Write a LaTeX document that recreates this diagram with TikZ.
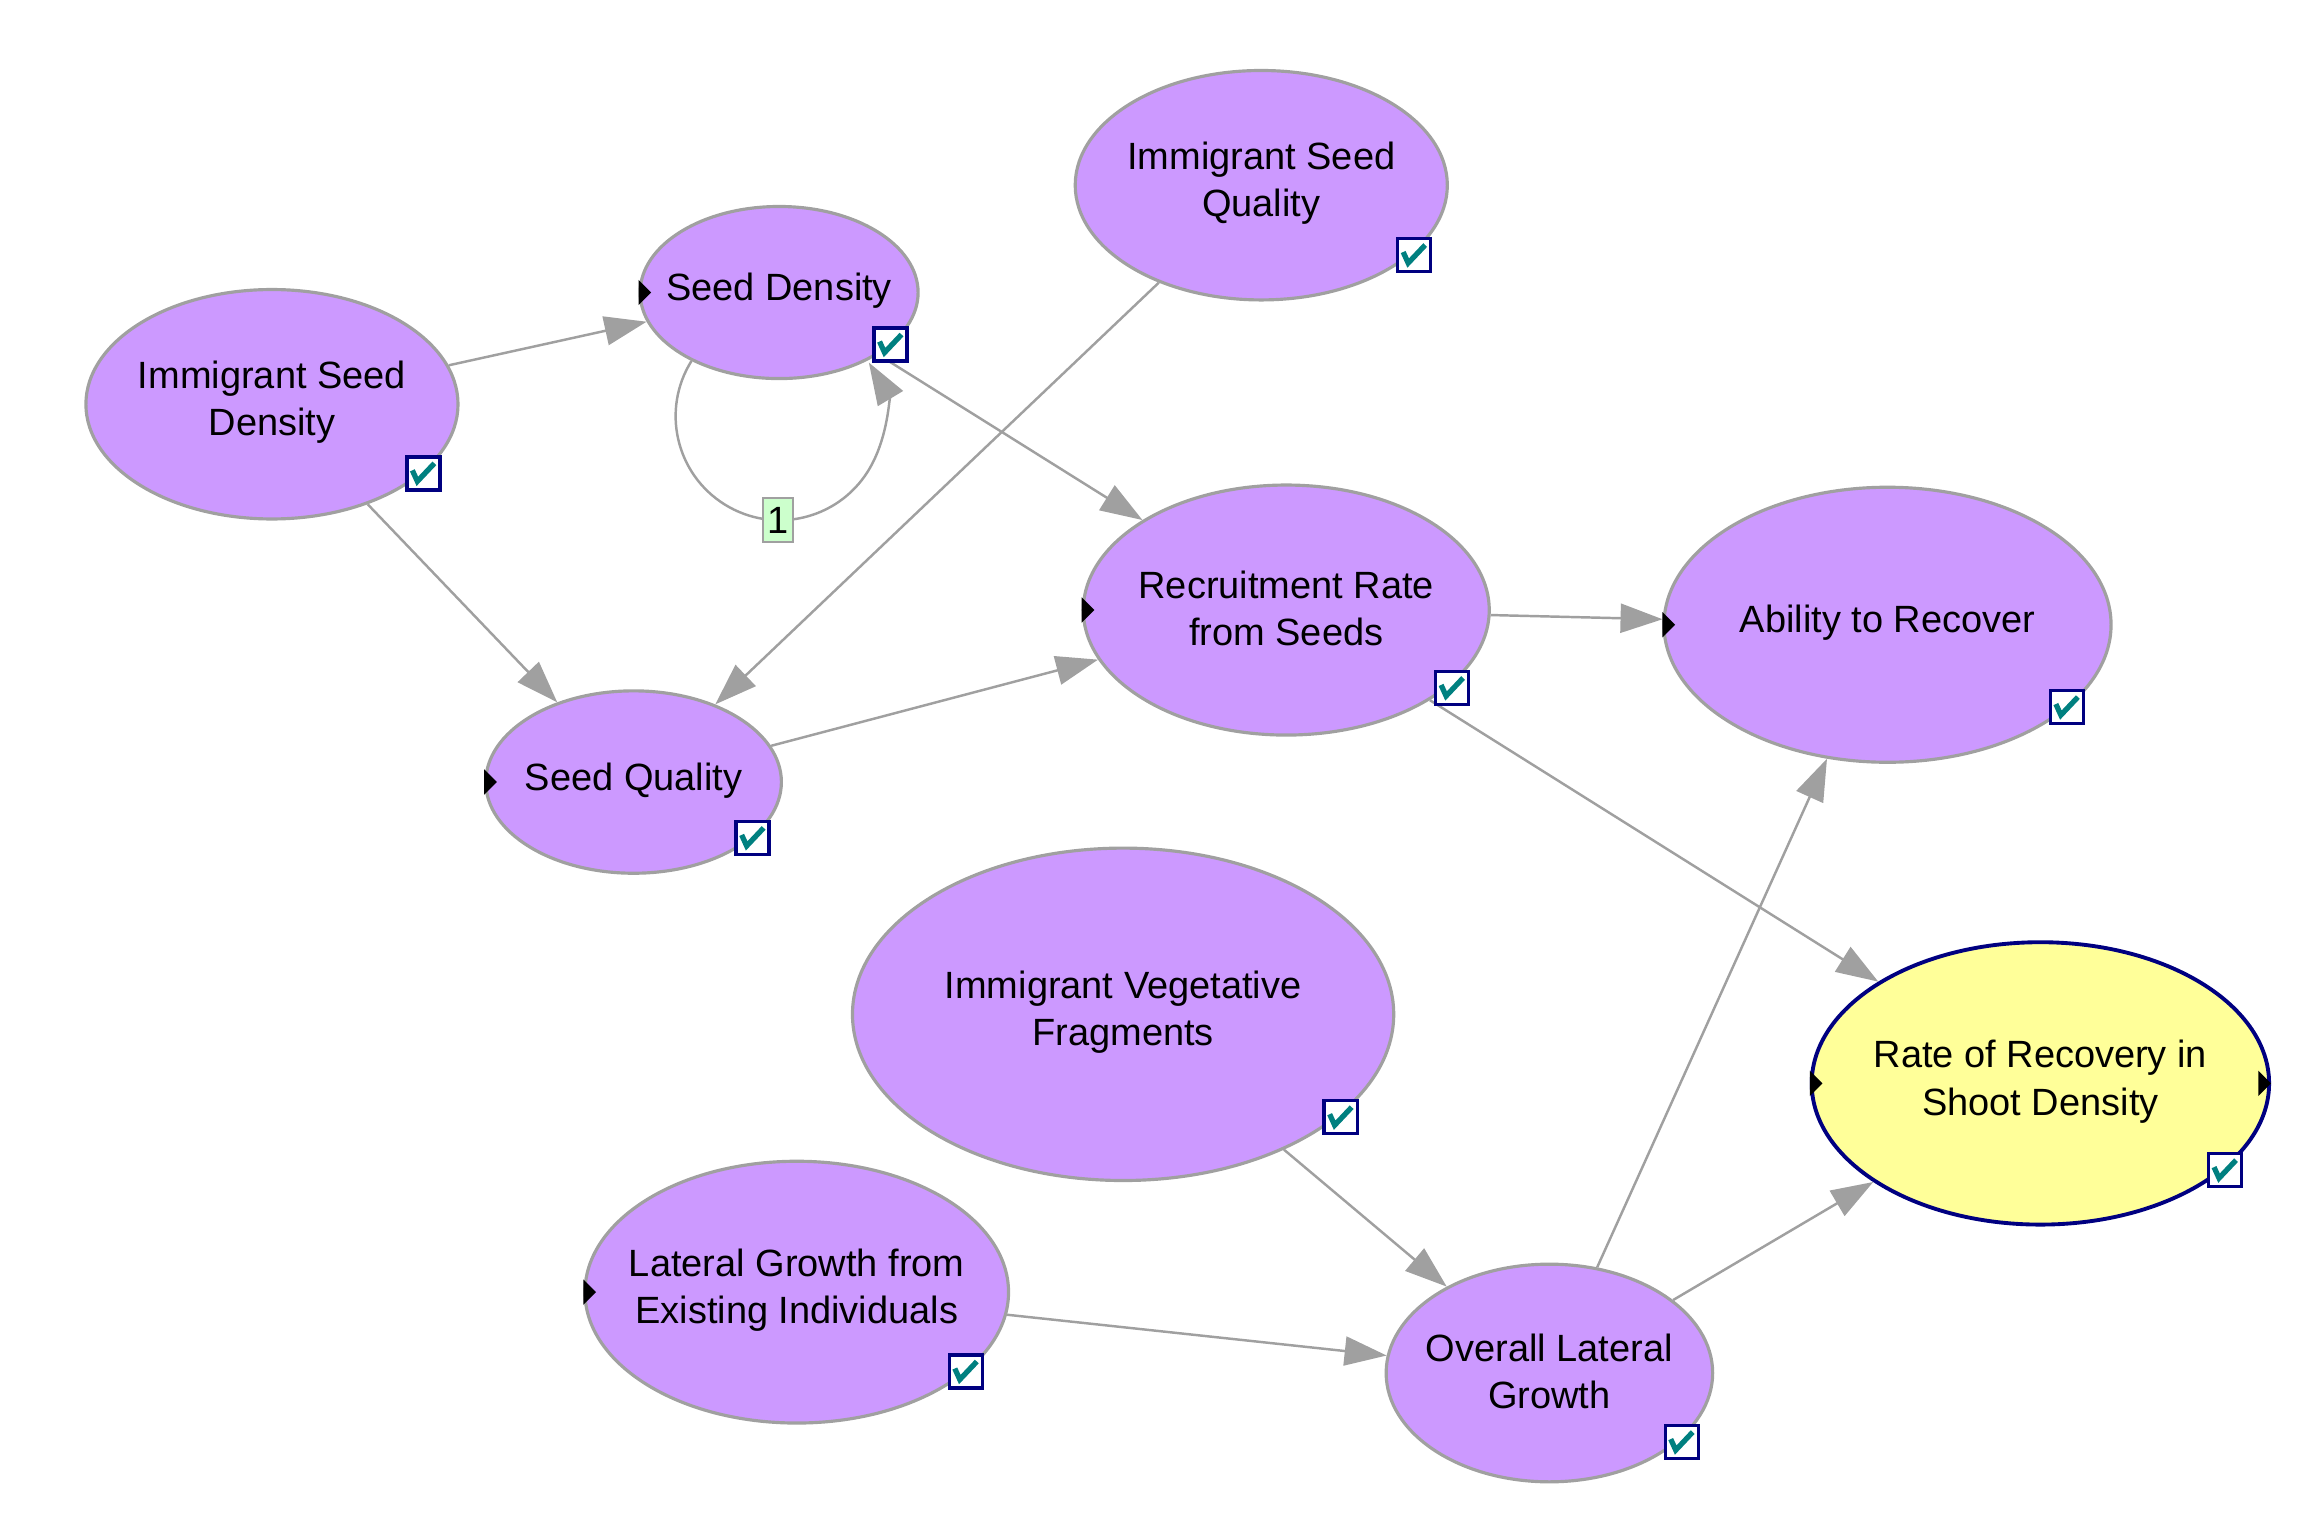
\documentclass[tikz,border=0pt]{standalone}
\usepackage{fontspec}
\setmainfont{Liberation Sans}
\usetikzlibrary{arrows.meta,shapes.geometric,positioning}
\definecolor{nodepurple}{RGB}{204,153,255}
\definecolor{goalyellow}{RGB}{255,255,153}
\definecolor{linkgrey}{RGB}{160,160,160}
\definecolor{boxnavy}{RGB}{0,0,128}
\definecolor{tickteal}{RGB}{0,128,128}
\definecolor{labelgreen}{RGB}{204,255,204}

\begin{document}
\begin{tikzpicture}[x=0.0147cm,y=0.0147cm,font=\fontsize{10.8}{13.4}\selectfont]
\tikzset{NODE/.style={draw=linkgrey,line width=0.9pt,fill=nodepurple,ellipse,inner sep=0pt}}
\tikzset{GOAL/.style={NODE,draw=boxnavy,line width=1.1pt,fill=goalyellow}}
\tikzset{AXES/.style 2 args={minimum width=#1*0.0294cm,minimum height=#2*0.0294cm}}
\tikzset{TEXT/.style={align=center,yshift=0.5pt}}

\tikzset{LINK/.style={draw=linkgrey,line width=0.7pt,-{Triangle[length=0.42cm,width=0.29cm]}}}
\tikzset{LOOPLABEL/.style={draw=linkgrey,line width=0.6pt,fill=labelgreen,minimum width=0.3cm,minimum height=0.44cm,inner sep=0pt}}

\tikzset{CHECK/.style={draw=boxnavy,line width=0.95pt,fill=white,minimum size=0.33cm,inner sep=0pt,
  path picture={\draw[tickteal,line width=1.5pt] ([shift={(-0.11cm,0.03cm)}]path picture bounding box.center) -- ++(0.05cm,-0.11cm) -- ++(0.17cm,0.18cm);}}}

\useasboundingbox (0,0) rectangle (1568,-1042);

\node[NODE,AXES={126.5}{78},label={[TEXT]center:Immigrant Seed\\Density}] (isd) at (185,-275) {};
\node[NODE,AXES={94.5}{58.5},label={[TEXT]center:Seed Density}] (sd) at (530,-199) {};
\node[NODE,AXES={126.5}{78},label={[TEXT]center:Immigrant Seed\\Quality}] (isq) at (858,-126) {};
\node[NODE,AXES={138}{85},label={[TEXT]center:Recruitment Rate\\from Seeds}] (rr) at (875,-415) {};
\node[NODE,AXES={152}{93.5},label={[TEXT]center:Ability to Recover}] (ab) at (1284,-425) {};
\node[NODE,AXES={100.5}{62},label={[TEXT]center:Seed Quality}] (sq) at (431,-532) {};
\node[NODE,AXES={184}{113},label={[TEXT]center:Immigrant Vegetative\\Fragments}] (ivf) at (764,-690) {};
\node[NODE,AXES={144}{89},label={[TEXT]center:Lateral Growth from\\Existing Individuals}] (lg) at (542,-879) {};
\node[NODE,AXES={111}{74},label={[TEXT]center:Overall Lateral\\Growth}] (olg) at (1054,-934) {};
\node[GOAL,AXES={155.5}{96},label={[TEXT]center:Rate of Recovery in\\Shoot Density}] (rate) at (1388,-737) {};

\draw[LINK] (isd) -- (sd);
\draw[LINK] (isd) -- (sq);
\draw[LINK] (isq) -- (sq);
\draw[LINK] (sd) -- (rr);
\draw[LINK] (sq) -- (rr);
\draw[LINK] (rr) -- (ab);
\draw[LINK] (rr) -- (rate);
\draw[LINK] (ivf) -- (olg);
\draw[LINK] (lg) -- (olg);
\draw[LINK] (olg) -- (ab);
\draw[LINK] (olg) -- (rate);

% self loop on seed density
\draw[LINK] (sd.-142) arc[start angle=148,end angle=391,radius=1.04cm];
\node[LOOPLABEL] (sd-loop) at (529,-354) {1};

% input / output markers
\foreach \n in {sd,rr,ab,sq,lg,rate}
  \fill (\n.west) ++(0pt,3.6pt) -- ++(3.6pt,-3.6pt) -- ++(-3.6pt,-3.6pt) -- cycle;
\fill (rate.east) -- ++(-3.6pt,3.6pt) -- ++(0pt,-7.2pt) -- cycle;

\node[CHECK] (isd-c) at (288,-322) {};
\node[CHECK] (sd-c) at (605.8,-234.4) {};
\node[CHECK] (isq-c) at (962,-173.5) {};
\node[CHECK] (rr-c) at (987.8,-468) {};
\node[CHECK] (ab-c) at (1406,-481) {};
\node[CHECK] (sq-c) at (512,-570) {};
\node[CHECK] (ivf-c) at (912,-760) {};
\node[CHECK] (lg-c) at (657,-933) {};
\node[CHECK] (olg-c) at (1144,-981) {};
\node[CHECK] (rate-c) at (1513.6,-796) {};

\end{tikzpicture}
\end{document}
